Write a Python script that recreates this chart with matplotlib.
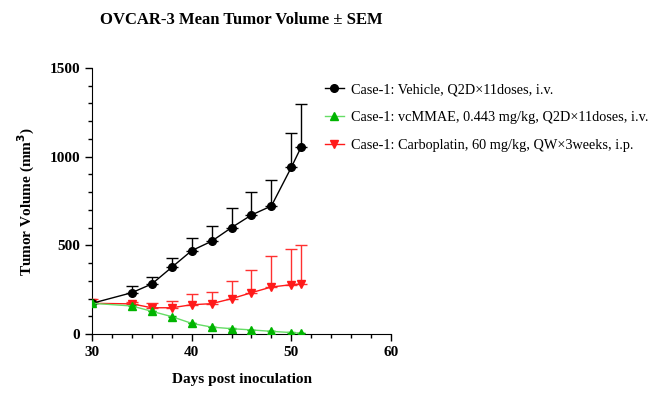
import matplotlib
matplotlib.use("Agg")
import matplotlib.pyplot as plt
from matplotlib.lines import Line2D
from matplotlib.ticker import MultipleLocator

days = [30, 34, 36, 38, 40, 42, 44, 46, 48, 50, 51]

vehicle = [173, 233, 282, 376, 470, 523, 600, 671, 722, 940, 1056]
vehicle_sem = [0, 38, 41, 54, 73, 86, 112, 130, 145, 195, 239]

vcmmae = [173, 158, 128, 98, 60, 39, 30, 23, 15, 8, 4]
vcmmae_sem = [0, 4, 4, 4, 3, 3, 2, 2, 2, 1, 1]

carbo = [173, 170, 148, 148, 165, 171, 199, 233, 265, 278, 282]
carbo_sem = [22, 10, 29, 36, 59, 68, 98, 130, 177, 201, 218]

labels = [
    "Case-1: Vehicle, Q2D\u00d711doses, i.v.",
    "Case-1: vcMMAE, 0.443 mg/kg, Q2D\u00d711doses, i.v.",
    "Case-1: Carboplatin, 60 mg/kg, QW\u00d73weeks, i.p.",
]

plt.rcParams["font.family"] = ["Liberation Serif", "DejaVu Serif"]

fig = plt.figure(figsize=(6.53, 4.18), dpi=100)
ax = fig.add_axes([92 / 653, 1 - 334 / 418, 299 / 653, 266 / 418])

zero = [0] * len(days)

# vehicle
ax.errorbar(days, vehicle, yerr=[zero, vehicle_sem], color="black", ecolor="black",
            elinewidth=1, capsize=4, capthick=1, linewidth=1, marker="o",
            markersize=5.5, zorder=4)
# carboplatin
ax.errorbar(days, carbo, yerr=[zero, carbo_sem], color="#ff1a1a", ecolor="#ff3030",
            elinewidth=1, capsize=4, capthick=1, linewidth=1, marker="v",
            markersize=6, zorder=3)
# vcMMAE
ax.errorbar(days, vcmmae, yerr=[zero, vcmmae_sem], color="#66dd66", ecolor="#00b400",
            elinewidth=1, capsize=3, capthick=1, linewidth=1, marker="^",
            markersize=6, markerfacecolor="#00b400", markeredgecolor="#00b400",
            zorder=5)

ax.set_xlim(30, 60)
ax.set_ylim(0, 1500)
ax.xaxis.set_major_locator(MultipleLocator(10))
ax.xaxis.set_minor_locator(MultipleLocator(2))
ax.yaxis.set_major_locator(MultipleLocator(500))
ax.yaxis.set_minor_locator(MultipleLocator(100))
for s in ["top", "right"]:
    ax.spines[s].set_visible(False)
ax.tick_params(which="major", length=5, width=1, labelsize=11)
ax.tick_params(which="minor", length=3, width=1)
for t in ax.get_xticklabels() + ax.get_yticklabels():
    t.set_fontweight("bold")

ax.set_xlabel("Days post inoculation", fontsize=11, fontweight="bold", labelpad=10)
ax.set_ylabel("Tumor Volume (mm$^\\mathbf{3}$)", fontsize=11, fontweight="bold", labelpad=9)
ax.set_title("OVCAR-3 Mean Tumor Volume \u00b1 SEM", fontsize=12, fontweight="bold", pad=32)

handles = [
    Line2D([], [], color="black", marker="o", markersize=5.5, linewidth=1),
    Line2D([], [], color="#66dd66", marker="^", markersize=6, linewidth=1,
           markerfacecolor="#00b400", markeredgecolor="#00b400"),
    Line2D([], [], color="#ff1a1a", marker="v", markersize=6, linewidth=1),
]
fig.legend(handles, labels, loc="upper left", bbox_to_anchor=(325 / 653, 1 - 83 / 418),
           frameon=False, fontsize=10.3, labelspacing=1.05, handlelength=1.3,
           handletextpad=0.5, borderpad=0, borderaxespad=0)

fig.savefig("out.png", dpi=100)
